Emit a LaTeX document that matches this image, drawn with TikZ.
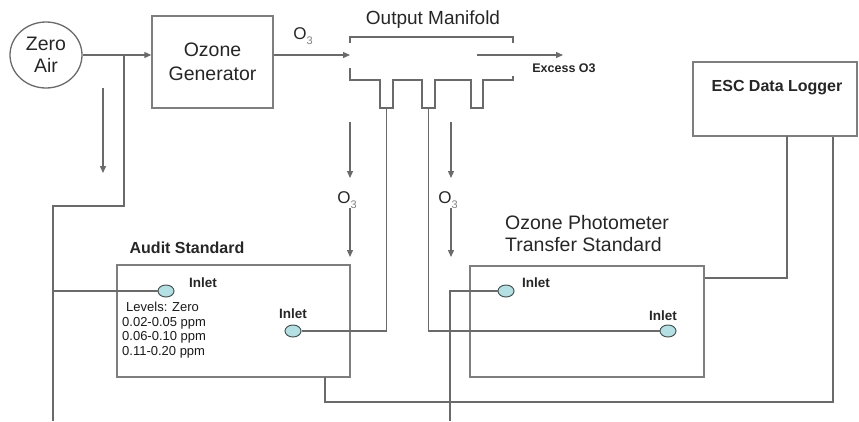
\documentclass[tikz,border=0pt]{standalone}
\usepackage{fontspec}
\setmainfont{Liberation Sans}
\usetikzlibrary{shapes.geometric,arrows.meta}
\definecolor{linegray}{HTML}{6A6A6A}
\definecolor{boxgray}{HTML}{7E7E7E}
\definecolor{inletfill}{HTML}{B4E0E4}
\definecolor{inletdraw}{HTML}{4A5656}
\definecolor{subgray}{HTML}{808080}
\tikzset{
  conn/.style={draw=linegray,line width=1.3pt},
  arr/.style={conn,-{Triangle[length=7pt,width=6pt]}},
  boxnode/.style={draw=boxgray,line width=1.5pt,rectangle,inner sep=0pt},
  inletnode/.style={ellipse,draw=inletdraw,fill=inletfill,line width=1pt,minimum width=16pt,minimum height=12pt,inner sep=0pt},
  inletlbl/.style={font=\fontsize{13.5}{15}\selectfont\bfseries,text=black!85,inner sep=0pt},
  biglbl/.style={font=\fontsize{19.5}{23}\selectfont,text=black!85,inner sep=0pt,align=center},
  boldlbl/.style={font=\fontsize{16}{18}\selectfont\bfseries,text=black!85,inner sep=0pt},
  othree/.style={font=\fontsize{17}{19}\selectfont,text=black!85,inner sep=0pt}
}
\newcommand{\Othree}{O\textcolor{subgray}{\raisebox{-5pt}{\fontsize{11}{12}\selectfont 3}}}
\begin{document}
\begin{tikzpicture}[x=1pt,y=-1pt]
\useasboundingbox (0,0) rectangle (859,421);
% nodes
\node[ellipse,draw=linegray,line width=1.3pt,minimum width=72pt,minimum height=66pt,inner sep=0pt,biglbl] (zero) at (46,55) {Zero\\[-1pt]Air};
\node[boxnode,minimum width=121pt,minimum height=92pt,biglbl] (gen) at (212.5,62) {Ozone\\[1pt]Generator};
\node[boxnode,minimum width=164pt,minimum height=74pt] (esc) at (775,99) {};
\node[boldlbl] (esclbl) at (777,88) {ESC Data Logger};
\node[boxnode,minimum width=233pt,minimum height=112pt] (audit) at (233.5,321) {};
\node[boldlbl] (auditlbl) at (187,248) {Audit Standard};
\node[boxnode,minimum width=234pt,minimum height=111pt] (trans) at (587,321.5) {};
\node[biglbl,align=left,anchor=west,font=\fontsize{19.5}{22}\selectfont] (translbl) at (505,234) {Ozone Photometer\\Transfer Standard};
\node[font=\fontsize{19}{21}\selectfont,text=black!85,inner sep=0pt] (mlbl) at (433,20) {Output Manifold};
\node[font=\fontsize{12.5}{14}\selectfont\bfseries,text=black!85,inner sep=0pt] (exlbl) at (564,68) {Excess O3};
% inlets
\node[inletnode] (a1) at (166,291) {};
\node[inletnode] (a2) at (293,331) {};
\node[inletnode] (t1) at (506,291) {};
\node[inletnode] (t2) at (668,331) {};
\node[inletlbl] (a1l) at (203,283) {Inlet};
\node[inletlbl] (a2l) at (293,314) {Inlet};
\node[inletlbl] (t1l) at (536,283) {Inlet};
\node[inletlbl] (t2l) at (663,316) {Inlet};
\node[anchor=west,align=left,inner sep=0pt,text=black!90,font=\fontsize{13}{14.7}\selectfont] (levels) at (122,330) {\hspace{4pt}Levels: Zero\\0.02-0.05 ppm\\0.06-0.10 ppm\\0.11-0.20 ppm};
% O3 labels
\node[othree] (o3top) at (303,36) {\Othree};
\node[othree] (o3a) at (347,200) {\Othree};
\node[othree] (o3t) at (448,200) {\Othree};
% manifold shape
\coordinate (min) at (350,55);
\coordinate (exs) at (477,55);
\coordinate (exe) at (563,55);
\coordinate (p1) at (386.5,108);
\coordinate (p2) at (428.5,108);
\draw[conn] (350,43) -- (350,37) -- (513,37) -- (513,43);
\draw[conn] (350,68) -- (350,80) -- (380,80) -- (380,108) -- (393,108) -- (393,80)
  -- (422,80) -- (422,108) -- (435,108) -- (435,80) -- (471,80) -- (471,108)
  -- (483,108) -- (483,80) -- (513,80) -- (513,76);
\draw[arr] (exs) -- (exe);
% connectors
\coordinate (j1) at (124,55);
\coordinate (j2) at (53,206);
\coordinate (j3) at (53,291);
\coordinate (bl) at (53,421);
\draw[arr] (zero.east) -- (zero.east -| gen.west);
\draw[arr] (gen.east |- zero.east) -- (min);
\draw[conn] (j1) |- (j2) -- (bl);
\draw[conn] (j3) -- (a1.west);
\coordinate (s1) at (103,88);
\coordinate (s2) at (103,173);
\draw[arr] (s1) -- (s2);
\draw[conn] (p1) |- (a2.east);
\draw[conn] (p2) |- (t2.west);
% O3 arrows
\coordinate (aa1) at (350,122); \coordinate (aa2) at (350,178);
\coordinate (aa3) at (350,208); \coordinate (aa4) at (350,257);
\coordinate (tt1) at (451,122); \coordinate (tt2) at (451,178);
\coordinate (tt3) at (451,208); \coordinate (tt4) at (451,257);
\draw[arr] (aa1) -- (aa2);
\draw[arr] (aa3) -- (aa4);
\draw[arr] (tt1) -- (tt2);
\draw[arr] (tt3) -- (tt4);
% data logger connections
\coordinate (ab) at (325,377);
\coordinate (br) at (833,402);
\draw[conn] (ab) |- (br) -- (br |- esc.south);
\coordinate (el) at (787,136);
\draw[conn] (el) |- (trans.east |- 0,278);
\coordinate (tb) at (450,421);
\draw[conn] (t1.west) -| (tb);
\end{tikzpicture}
\end{document}
